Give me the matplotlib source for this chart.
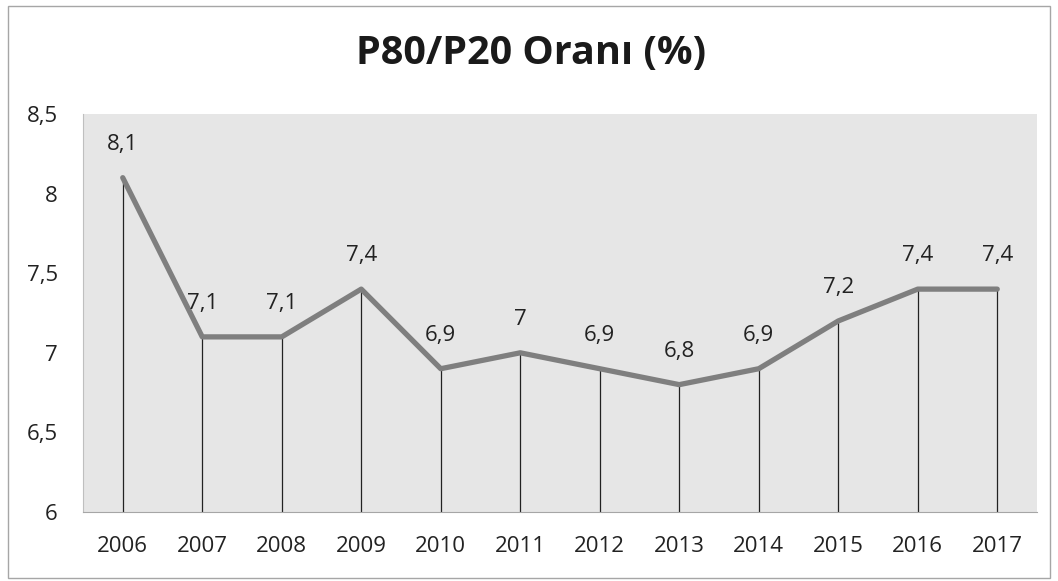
import matplotlib
matplotlib.use('Agg')
import matplotlib.pyplot as plt
from matplotlib.patches import Rectangle

years = ['2006', '2007', '2008', '2009', '2010', '2011',
         '2012', '2013', '2014', '2015', '2016', '2017']
ratio = [8.1, 7.1, 7.1, 7.4, 6.9, 7.0, 6.9, 6.8, 6.9, 7.2, 7.4, 7.4]
yticks = [6, 6.5, 7, 7.5, 8, 8.5]

plt.rcParams['font.family'] = ['Open Sans', 'DejaVu Sans']

fig = plt.figure(figsize=(10.58, 5.81), dpi=100)
# plot area in pixel terms: x 83..1037, y 114..512
ax = fig.add_axes([83/1058, 1 - 512/581, 954/1058, 398/581])
ax.set_facecolor('#e6e6e6')

x = list(range(len(years)))
# drop lines from each point to the axis
ax.vlines(x, 6, ratio, color='#222222', lw=0.9, zorder=2)
ax.plot(x, ratio, color='#7f7f7f', lw=3.8, solid_capstyle='round', zorder=3)

for xi, v in zip(x, ratio):
    lab = ('%g' % v).replace('.', ',')
    ax.annotate(lab, (xi, v), xytext=(0, 24), textcoords='offset points',
                ha='center', va='center', fontsize=16, color='#222222')

ax.set_xlim(-0.5, len(years) - 0.5)
ax.set_ylim(6, 8.5)
ax.set_yticks(yticks)
ax.set_yticklabels([('%g' % t).replace('.', ',') for t in yticks])
ax.set_xticks(x)
ax.set_xticklabels(years)
ax.tick_params(axis='both', length=0, labelsize=16, colors='#222222')
ax.tick_params(axis='y', pad=18)
ax.tick_params(axis='x', pad=17)
for s in ['top', 'right']:
    ax.spines[s].set_visible(False)
ax.spines['left'].set_color('#bfbfbf')
ax.spines['bottom'].set_color('#a6a6a6')

fig.text(531/1058, 1 - 54/581, 'P80/P20 Oranı (%)', ha='center', va='center',
         fontsize=28.5, fontweight='bold', color='#1a1a1a')

# outer chart border
fig.patches.append(Rectangle((8/1058, 3/581), 1042/1058, 572/581,
                             transform=fig.transFigure, fill=False,
                             edgecolor='#a6a6a6', lw=1))

fig.savefig('out.png', dpi=100)
